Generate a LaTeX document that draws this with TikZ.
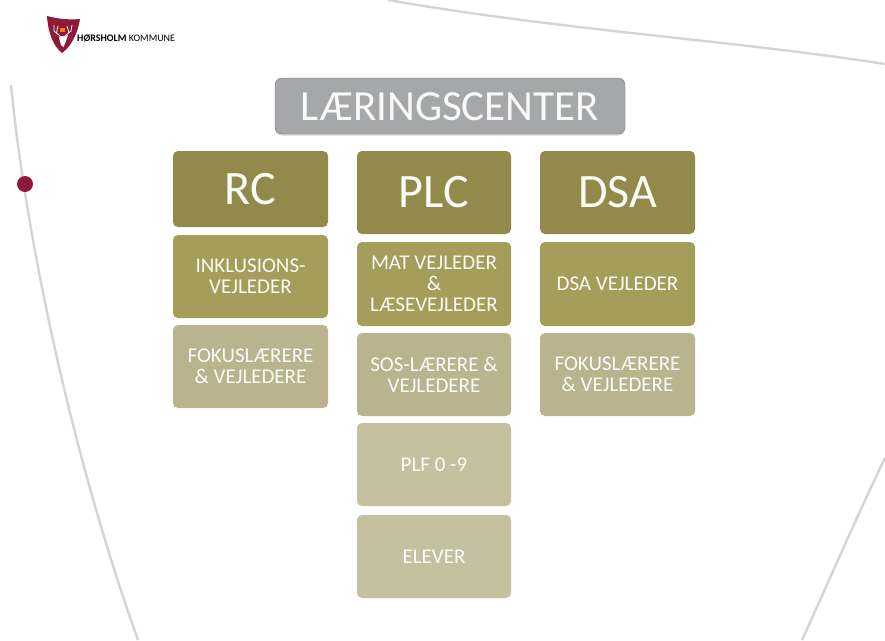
\documentclass[tikz,border=0pt]{standalone}
\usepackage{fontspec}
\setmainfont{Carlito}
\usetikzlibrary{shadows}
\definecolor{titlegray}{HTML}{A5A7A8}
\definecolor{olivea}{HTML}{918A4A}
\definecolor{oliveb}{HTML}{A59D5A}
\definecolor{olivec}{HTML}{B9B48D}
\definecolor{olived}{HTML}{C5C1A0}
\definecolor{arcgray}{HTML}{D4D4D6}
\definecolor{crest}{HTML}{8E1A38}
\tikzset{
  box/.style={rounded corners=5pt,minimum width=155pt,align=center,text=white!93!olivec,inner sep=0pt,font=\fontsize{21}{21}\selectfont},
  headbox/.style={box,fill=olivea,font=\fontsize{48}{50}\selectfont},
  arcline/.style={arcgray,line width=2.4pt}
}
\begin{document}
\begin{tikzpicture}[x=1pt,y=-1pt]
  \useasboundingbox (0,0) rectangle (885,640);
  % background arcs
  \draw[arcline] (388,0) .. controls (560,30) and (730,40) .. (885,64);
  \draw[arcline] (11,85) .. controls (25,230) and (70,450) .. (138,640);
  \draw[arcline] (885,458) .. controls (855,520) and (825,590) .. (802,640);
  \node[circle,fill=crest,minimum size=16pt,inner sep=0pt] (dot) at (25,184) {};

  % logo
  \draw[fill=crest,draw=none] (47,16) .. controls (58,19) and (70,20) .. (80,19)
    .. controls (78,32) and (72,46) .. (62,53) .. controls (53,46) and (48,32) .. (47,16) -- cycle;
  \fill[white] (60,36) -- (65,36) -- (68,35) -- (66,41) -- (63.5,47) -- (61,45) -- (59,38) -- cycle;
  \draw[white,line width=.8pt] (60,36) -- (54,31) -- (54,25) (56.5,33) -- (58,26)
    (65,36) -- (71,31) -- (72,25) (69,33) -- (67,26);
  \fill[orange!80!brown] (59.5,28) rectangle (65,32);
  \node[anchor=west,inner sep=0pt,font=\fontsize{10}{11}\selectfont\bfseries] (logotext) at (77,38) {HØRSHOLM \mdseries KOMMUNE};

  % title
  \node[rounded corners=7pt,draw=black!55,fill=titlegray,minimum width=350pt,minimum height=56pt,
    inner sep=0pt,text height=29pt,text depth=0pt,text=white!93!titlegray,font=\fontsize{43}{45}\selectfont,
    drop shadow={shadow xshift=0pt,shadow yshift=-1.5pt,opacity=.3}] (title) at (450,106) {LÆRINGSCENTER};

  % columns
  \node[headbox,minimum height=76pt] (rc) at (250.5,189) {RC};
  \node[box,fill=oliveb,minimum height=83pt] (inkl) at (250.5,276.5) {INKLUSIONS-\\VEJLEDER};
  \node[box,fill=olivec,minimum height=83pt] (fokusa) at (250.5,366.5) {FOKUSLÆRERE\\\& VEJLEDERE};

  \node[headbox,minimum width=154pt,minimum height=83pt] (plc) at (434,192.5) {PLC};
  \node[box,fill=oliveb,minimum width=154pt,minimum height=84pt] (mat) at (434,284) {MAT VEJLEDER\\\&\\LÆSEVEJLEDER};
  \node[box,fill=olivec,minimum width=154pt,minimum height=83pt] (sos) at (434,374.5) {SOS-LÆRERE \&\\VEJLEDERE};
  \node[box,fill=olived,minimum width=154pt,minimum height=83pt] (plf) at (434,464.5) {PLF 0 -9};
  \node[box,fill=olived,minimum width=154pt,minimum height=83pt] (elever) at (434,556.5) {ELEVER};

  \node[headbox,minimum height=83pt] (dsa) at (617.5,192.5) {DSA};
  \node[box,fill=oliveb,minimum height=84pt] (dsav) at (617.5,284) {DSA VEJLEDER};
  \node[box,fill=olivec,minimum height=83pt] (fokusb) at (617.5,374.5) {FOKUSLÆRERE\\\& VEJLEDERE};
\end{tikzpicture}
\end{document}
